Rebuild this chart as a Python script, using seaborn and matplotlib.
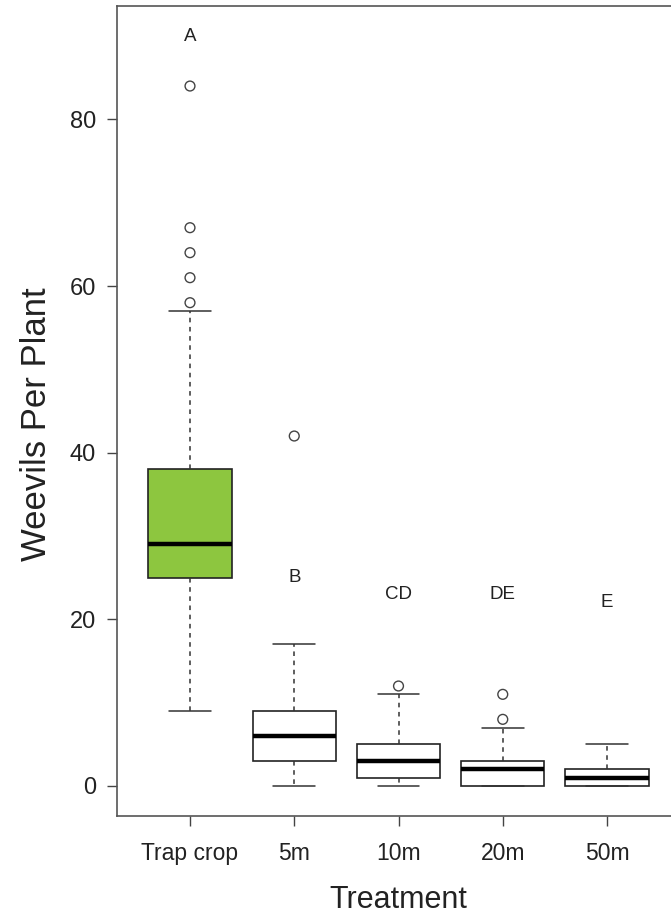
import matplotlib
matplotlib.use("Agg")
import matplotlib.pyplot as plt
import pandas as pd
import seaborn as sns

# five-number summaries: low whisker, Q1, median, Q3, high whisker
treatments = ["Trap crop", "5m", "10m", "20m", "50m"]
low_whisker = [9, 0, 0, 0, 0]
q1 = [25, 3, 1, 0, 0]
median = [29, 6, 3, 2, 1]
q3 = [38, 9, 5, 3, 2]
high_whisker = [57, 17, 11, 7, 5]

outlier_group = ["Trap crop"] * 5 + ["5m", "10m", "20m", "20m"]
outlier_value = [58, 61, 64, 67, 84, 42, 12, 8, 11]

letters = ["A", "B", "CD", "DE", "E"]
letter_y = [90, 25, 23, 23, 22]

box_colors = ["#8dc63f", "white", "white", "white", "white"]

rows = []
for i, t in enumerate(treatments):
    for v in (low_whisker[i], q1[i], median[i], q3[i], high_whisker[i]):
        rows.append({"Treatment": t, "Weevils": v})
summary = pd.DataFrame(rows)
outliers = pd.DataFrame({"Treatment": outlier_group, "Weevils": outlier_value})

sns.set_theme(style="ticks")
plt.rcParams["font.family"] = ["Liberation Sans", "DejaVu Sans"]

fig = plt.figure(figsize=(6.71, 9.15), dpi=100)
ax = fig.add_axes([0.1744, 0.1082, 0.8390, 0.8852])

sns.boxplot(
    data=summary, x="Treatment", y="Weevils", hue="Treatment", order=treatments,
    palette=dict(zip(treatments, box_colors)), legend=False, width=0.8,
    saturation=1, whis=(0, 100), showfliers=False, ax=ax,
    boxprops=dict(edgecolor="#222222", linewidth=1.2),
    medianprops=dict(color="black", linewidth=3.2),
    whiskerprops=dict(color="#333333", linewidth=1.1, linestyle=(0, (3, 3))),
    capprops=dict(color="#333333", linewidth=1.1),
    capwidths=0.4,
)
sns.scatterplot(
    data=outliers, x="Treatment", y="Weevils", ax=ax, marker="o", s=50,
    facecolor="none", edgecolor="#444444", linewidth=1.0, zorder=5,
)

for i, lab in enumerate(letters):
    ax.text(i, letter_y[i], lab, ha="center", va="center", fontsize=13.5, color="#222222")

ax.set_xlim(-0.7, 4.7)
ax.set_ylim(-3.6, 93.6)
ax.set_yticks([0, 20, 40, 60, 80])
ax.tick_params(axis="both", length=7, width=1, color="#444444",
               labelcolor="#222222", direction="out")
ax.tick_params(axis="x", pad=12, labelsize=16.5)
ax.tick_params(axis="y", pad=8, labelsize=17)
for s in ax.spines.values():
    s.set_visible(True)
    s.set_color("#555555")
    s.set_linewidth(1.2)
ax.set_xlabel("Treatment", fontsize=22, labelpad=14, color="#222222")
ax.set_ylabel("Weevils Per Plant", fontsize=25, labelpad=12, y=0.484, color="#222222")

fig.savefig("out.png", dpi=100)
